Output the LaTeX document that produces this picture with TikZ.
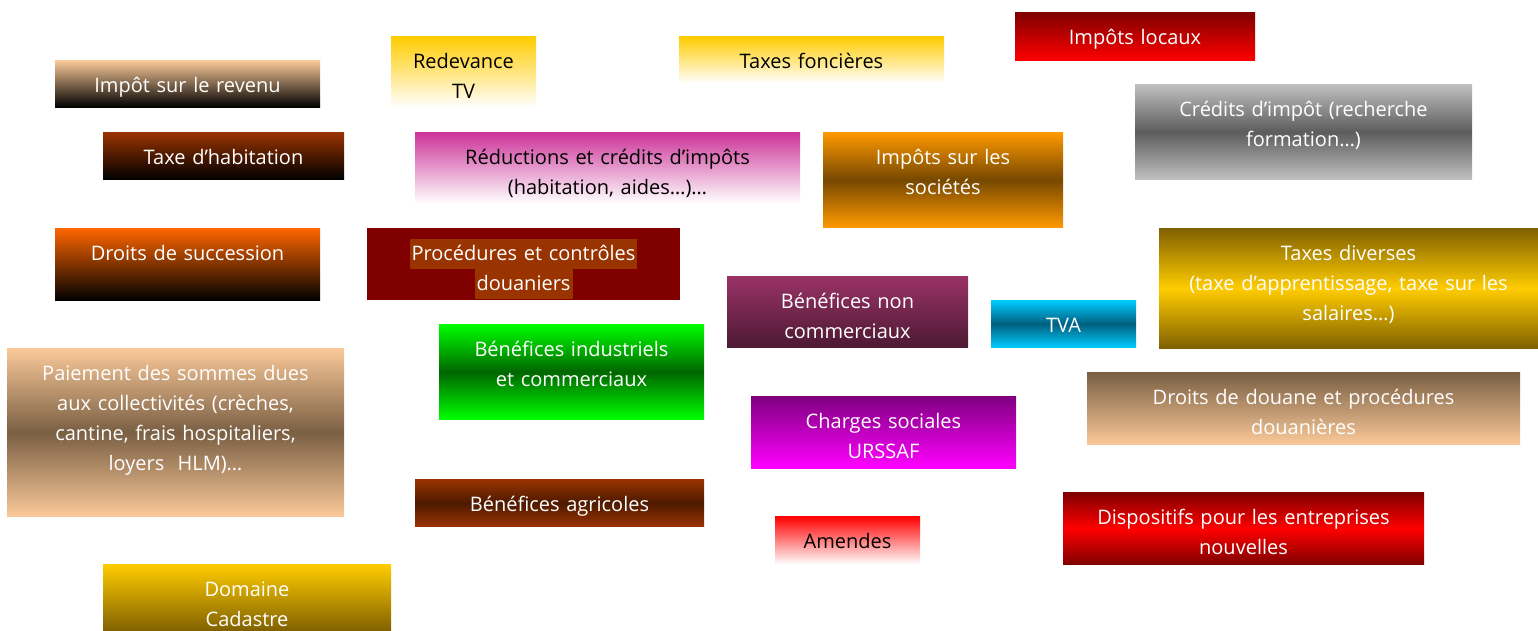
\documentclass[tikz,border=0pt]{standalone}
\usepackage{fontspec}
\setmainfont{Open Sans}
\usepackage{tikz}
\definecolor{peach}{HTML}{FAC999}
\definecolor{mudbrown}{HTML}{7A5F43}
\definecolor{rust}{HTML}{993300}
\definecolor{darkrust}{HTML}{4D1A00}
\definecolor{gold}{HTML}{FFCC00}
\definecolor{olive}{HTML}{806000}
\definecolor{pinkish}{HTML}{CC3399}
\definecolor{maroon}{HTML}{800000}
\definecolor{brightred}{HTML}{FF0000}
\definecolor{deeporange}{HTML}{FF6600}
\definecolor{amber}{HTML}{FF9900}
\definecolor{amberdark}{HTML}{764800}
\definecolor{lightgrey}{HTML}{C0C0C0}
\definecolor{darkgrey}{HTML}{5C5C5C}
\definecolor{plum}{HTML}{993366}
\definecolor{darkplum}{HTML}{4D1933}
\definecolor{skyblue}{HTML}{00CCFF}
\definecolor{teal}{HTML}{006080}
\definecolor{lime}{HTML}{00FF00}
\definecolor{forest}{HTML}{006600}
\definecolor{violet}{HTML}{800080}
\definecolor{fuchsia}{HTML}{FF00FF}
\tikzstyle{box} = [rectangle, anchor=north, inner xsep=4pt, inner ysep=0pt, text height=16pt,
align=center, font=\fontsize{10}{15}\selectfont, text=white]
\tikzstyle{fadebox} = [box, text=black, bottom color=white]
\newcommand{\hlbox}[1]{{\setlength{\fboxsep}{0pt}\colorbox{rust}{\strut\kern1pt #1\kern1pt}}}

\begin{document}
\begin{tikzpicture}[x=0.5pt, y=-0.5pt]
    \useasboundingbox (0,0) rectangle (1538,631);

    \node (revenu) [box, text width=124.5pt, text depth=7.5pt, top color=peach, bottom color=black] at (187.5,60) {Impôt sur le revenu};
    \node (redevance) [fadebox, text width=64.5pt, text depth=19.5pt, top color=gold] at (463.5,36) {Redevance\\TV};
    \node (foncieres) [fadebox, text width=124.5pt, text depth=7.5pt, top color=gold] at (811.5,36) {Taxes foncières};
    \node (locaux) [box, text width=112pt, text depth=8pt, top color=maroon, bottom color=brightred] at (1135,12) {Impôts locaux};
    \node (habitation) [box, text width=112.5pt, text depth=7.5pt, top color=rust, bottom color=black] at (223.5,132) {Taxe d’habitation};
    \node (reductions) [fadebox, text width=184.5pt, text depth=19.5pt, top color=pinkish] at (607.5,132) {Réductions et crédits d’impôts\\(habitation, aides…)…};
    \node (societes) [box, text width=112pt, text depth=31.5pt, top color=amber, bottom color=amber, middle color=amberdark] at (943,132) {Impôts sur les\\sociétés};
    \node (credits) [box, text width=160.5pt, text depth=31.5pt, top color=lightgrey, bottom color=lightgrey, middle color=darkgrey] at (1303.5,84) {Crédits d’impôt (recherche\\formation…)};
    \node (succession) [box, text width=124.5pt, text depth=20pt, top color=deeporange, bottom color=black] at (187.5,228) {Droits de succession};
    \node (procedures) [box, text width=148.5pt, text depth=20pt, fill=maroon] at (523.5,228) {\hlbox{Procédures et contrôles}\\\hlbox{douaniers}};
    \node (noncomm) [box, text width=112.5pt, text depth=19.5pt, top color=plum, bottom color=darkplum] at (847.5,276) {Bénéfices non\\commerciaux};
    \node (tva) [box, text width=64.5pt, text depth=7.5pt, top color=skyblue, bottom color=skyblue, middle color=teal] at (1063.5,300) {TVA};
    \node (diverses) [box, text width=181.5pt, text depth=44pt, top color=olive, bottom color=olive, middle color=gold] at (1348.5,228) {Taxes diverses\\(taxe d’apprentissage, taxe sur les\\salaires…)};
    \node (paiement) [box, text width=160.5pt, text depth=68pt, top color=peach, bottom color=peach, middle color=mudbrown] at (175.5,348) {Paiement des sommes dues\\aux collectivités (crèches,\\cantine, frais hospitaliers,\\loyers~~HLM)…};
    \node (industriels) [box, text width=124.5pt, text depth=31.5pt, top color=lime, bottom color=lime, middle color=forest] at (571.5,324) {Bénéfices industriels\\et commerciaux};
    \node (charges) [box, text width=124.5pt, text depth=20pt, top color=violet, bottom color=fuchsia] at (883.5,396) {Charges sociales\\URSSAF};
    \node (douane) [box, text width=208.5pt, text depth=20pt, top color=mudbrown, bottom color=peach] at (1303.5,372) {Droits de douane et procédures\\douanières};
    \node (agricoles) [box, text width=136.5pt, text depth=7.5pt, top color=rust, bottom color=rust, middle color=darkrust] at (559.5,479) {Bénéfices agricoles};
    \node (amendes) [fadebox, text width=64.5pt, text depth=8pt, top color=brightred] at (847.5,516) {Amendes};
    \node (dispositifs) [box, text width=172.5pt, text depth=20pt, top color=maroon, bottom color=maroon, middle color=brightred] at (1243.5,492) {Dispositifs pour les entreprises\\nouvelles};
    \node (domaine) [box, text width=136pt, text depth=17.5pt, top color=gold, bottom color=olive] at (247,564) {Domaine\\Cadastre};

\end{tikzpicture}
\end{document}
